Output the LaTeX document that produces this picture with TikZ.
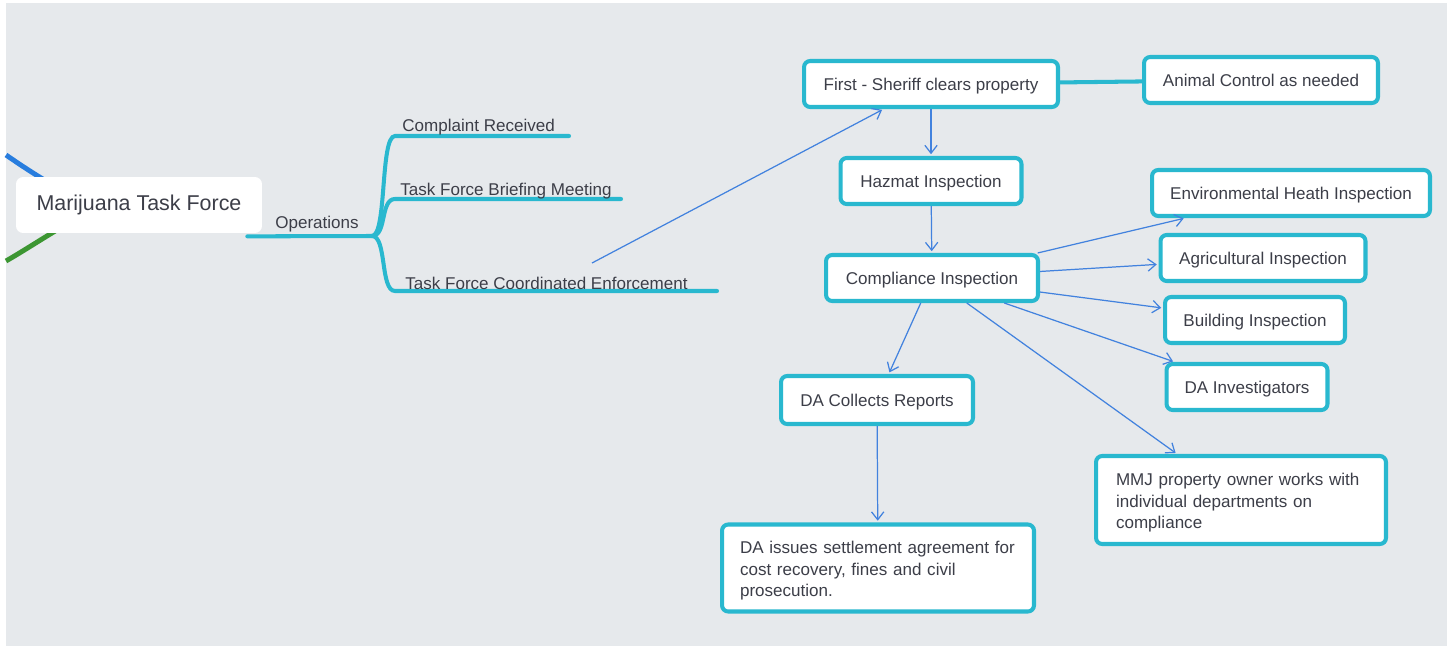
\documentclass[tikz,border=0pt]{standalone}
\usepackage{fontspec}
\setmainfont{Liberation Sans}
\usepackage{tikz}
\usetikzlibrary{arrows.meta}
\definecolor{mapbg}{RGB}{230,233,236}
\definecolor{mapcyan}{RGB}{41,184,207}
\definecolor{mapblue}{RGB}{66,130,222}
\definecolor{maptext}{RGB}{60,62,72}
\definecolor{leftblue}{RGB}{40,125,222}
\definecolor{leftgreen}{RGB}{60,150,50}

\begin{document}
\begin{tikzpicture}[x=0.02cm,y=-0.02cm,
	box/.style={draw=mapcyan,line width=2.3pt,rounded corners=3.5pt,fill=white,text=maptext,
		font=\fontsize{9.7}{12}\selectfont,minimum height=0.92cm,inner sep=0pt,
		text height=9.4pt,text depth=2pt},
	tallbox/.style={box,text height=,text depth=,align=left},
	rootbox/.style={fill=white,rounded corners=4pt,text=maptext,font=\fontsize{12.2}{14}\selectfont,
		minimum width=4.92cm,minimum height=1.12cm},
	branchtext/.style={text=maptext,font=\fontsize{9.7}{12}\selectfont,inner sep=0pt},
	branch/.style={mapcyan,line width=2.3pt,line cap=round},
	link/.style={mapblue,line width=0.7pt,-{Straight Barb[length=4.5pt,width=7pt]},shorten >=1pt}]
	\useasboundingbox (0,0) rectangle (1449,649);
	\fill[white] (0,0) rectangle (1449,649);
	\fill[mapbg] (6,3) rectangle (1447,646);
	% other branches of the map, cut at the left edge
	\coordinate (bluestub) at (6,155);
	\coordinate (greenstub) at (6,261);
	\draw[leftblue,line width=2.8pt] (bluestub) .. controls (25,168) and (40,178) .. (70,195);
	\draw[leftgreen,line width=2.8pt] (greenstub) .. controls (25,250) and (40,240) .. (70,222);
	\node[rootbox] (mtf) at (139,205) {Marijuana Task Force};
	% Operations and its branches
	\coordinate (opsend) at (372,236);
	\draw[branch] ([xshift=-0.3cm,yshift=-0.06cm]mtf.south east) -- (opsend);
	\node[branchtext] (ops) at (317,224) {Operations};
	\draw[branch] (opsend) .. controls (387,236) and (380,136) .. (395,136) -- (569,136);
	\draw[branch] (opsend) .. controls (387,236) and (380,199) .. (395,199) -- (621,199);
	\draw[branch] (opsend) .. controls (387,236) and (380,291) .. (395,291) -- (717,291);
	\node[branchtext,anchor=west] (complaint) at (402,127) {Complaint Received};
	\node[branchtext,anchor=west] (briefing) at (400,191) {Task Force Briefing Meeting};
	\node[branchtext,anchor=west] (enforce) at (405,283) {Task Force Coordinated Enforcement};
	\coordinate (enforcept) at (592,263);
	% enforcement steps
	\node[box,minimum width=5.08cm] (sheriff) at (931,84) {First - Sheriff clears property};
	\node[box,minimum width=4.68cm] (animal) at (1261,80) {Animal Control as needed};
	\node[box,minimum width=3.62cm] (hazmat) at (931,181) {Hazmat Inspection};
	\node[box,minimum width=5.56cm] (envhealth) at (1291,193) {Environmental Heath Inspection};
	\node[box,minimum width=4.10cm] (agri) at (1263,258) {Agricultural Inspection};
	\node[box,minimum width=4.24cm] (compliance) at (932,278) {Compliance Inspection};
	\node[box,minimum width=3.60cm] (building) at (1255,320) {Building Inspection};
	\node[box,minimum width=3.22cm] (dainv) at (1247,387) {DA Investigators};
	\node[box,minimum width=3.84cm,minimum height=0.96cm] (dacollect) at (877,400) {DA Collects Reports};
	\node[tallbox,minimum width=5.80cm,minimum height=1.76cm,text width=5.0cm] (mmj) at (1241,500)
		{\rule{0pt}{10pt}MMJ property owner works with\\individual departments on\\compliance};
	\node[tallbox,minimum width=6.24cm,minimum height=1.74cm,text width=5.52cm] (daissue) at (878,568)
		{\rule{0pt}{10pt}DA issues settlement agreement for\\cost recovery, fines and civil\\prosecution.};
	\draw[branch,line cap=butt] (sheriff) -- (animal);
	\draw[link] (enforcept) -- (sheriff);
	\draw[link] (sheriff) -- (hazmat);
	\draw[link] (hazmat) -- (compliance);
	\draw[link] (compliance) -- (envhealth);
	\draw[link] (compliance) -- (agri);
	\draw[link] (compliance) -- (building);
	\draw[link] (compliance) -- (dainv);
	\draw[link] (compliance) -- (mmj);
	\draw[link] (compliance) -- (dacollect);
	\draw[link] (dacollect) -- (daissue);
\end{tikzpicture}
\end{document}
